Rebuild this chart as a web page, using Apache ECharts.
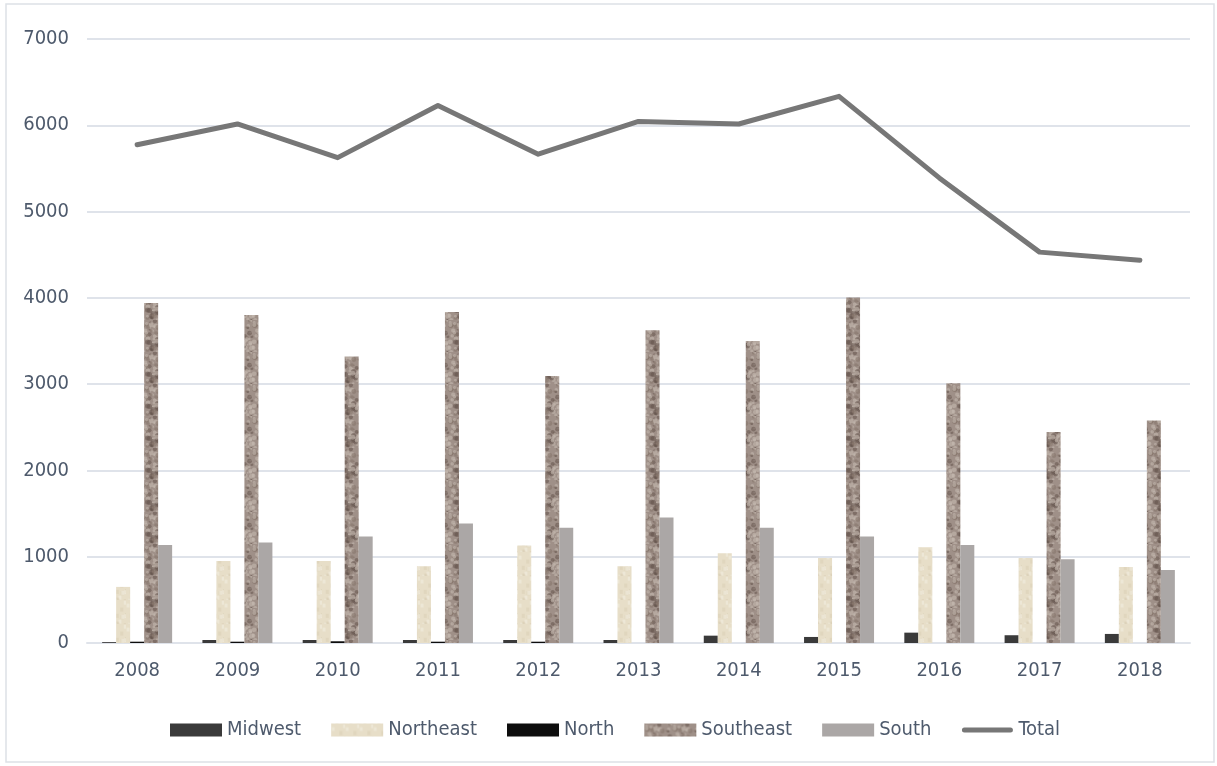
<!DOCTYPE html>
<html lang="en" style="height: 100%">
<head>
  <meta charset="utf-8">
</head>
<body style="height: 100%; margin: 0; background: #fff">
  <div id="container" style="width: 1217px; height: 766px"></div>

  <script type="text/javascript" src="https://fastly.jsdelivr.net/npm/echarts@6.0.0/dist/echarts.min.js"></script>

  <script type="text/javascript">
    // ---- data ----
    var years = ['2008', '2009', '2010', '2011', '2012', '2013', '2014', '2015', '2016', '2017', '2018'];
    var midwest   = [10, 35, 35, 35, 35, 35, 85, 70, 120, 90, 105];
    var northeast = [650, 950, 950, 890, 1130, 890, 1040, 985, 1110, 985, 880];
    var north     = [15, 15, 20, 15, 15, 0, 0, 0, 0, 0, 0];
    var southeast = [3940, 3800, 3320, 3835, 3095, 3625, 3500, 4005, 3010, 2445, 2580];
    var south     = [1135, 1165, 1235, 1385, 1335, 1455, 1335, 1235, 1135, 970, 845];
    var total     = [5775, 6015, 5625, 6230, 5665, 6045, 6015, 6335, 5390, 4530, 4435];
    var yTicks    = [0, 1000, 2000, 3000, 4000, 5000, 6000, 7000];

    var textColor = '#4e5a6c';
    var font = "'Liberation Sans Narrow', 'DejaVu Sans Condensed', sans-serif";

    // small deterministic hash, used only for texture speckle
    function hash(i) {
      var x = Math.sin(i * 12.9898 + 78.233) * 43758.5453;
      return x - Math.floor(x);
    }

    // brown speckled texture (Southeast)
    function speckle() {
      var c = document.createElement('canvas');
      c.width = 28; c.height = 32;
      var g = c.getContext('2d');
      g.fillStyle = '#9f9088';
      g.fillRect(0, 0, 28, 32);
      for (var i = 0; i < 80; i++) {
        var x = hash(i) * 28, y = hash(i + 500) * 32, r = 0.9 + hash(i + 900) * 1.8;
        var t = hash(i + 1300);
        g.fillStyle = t < 0.35 ? 'rgba(100,84,76,0.55)' : (t < 0.75 ? 'rgba(198,187,179,0.55)' : 'rgba(135,118,108,0.6)');
        g.beginPath();
        g.arc(x, y, r, 0, Math.PI * 2);
        g.fill();
      }
      return c;
    }

    // beige soft texture (Northeast)
    function linen() {
      var c = document.createElement('canvas');
      c.width = 14; c.height = 24;
      var g = c.getContext('2d');
      g.fillStyle = '#e7dec8';
      g.fillRect(0, 0, 14, 24);
      for (var j = 0; j < 14; j++) {
        g.fillStyle = hash(j + 70) < 0.5 ? 'rgba(218,207,182,0.55)' : 'rgba(242,237,224,0.6)';
        g.fillRect(hash(j + 90) * 14, hash(j + 110) * 24, 3, 4);
      }
      return c;
    }

    var dom = document.getElementById('container');
    var myChart = echarts.init(dom, null, { renderer: 'canvas' });

    function bar(name, data, color) {
      return {
        name: name,
        type: 'bar',
        data: data,
        barWidth: 14,
        barGap: '0%',
        itemStyle: { color: color }
      };
    }

    // thick rounded line icon for the Total legend entry (corner points keep the box size)
    var lineIcon = 'path://M0,0L0,0M52,13L52,13M3,4L49,4A2.5,2.5,0,0,1,49,9L3,9A2.5,2.5,0,0,1,3,4Z';

    var option = {
      animation: false,
      backgroundColor: '#fff',
      textStyle: { fontFamily: font },
      graphic: [{
        type: 'rect',
        shape: { x: 6, y: 4, width: 1208, height: 758 },
        style: { fill: 'none', stroke: '#dde1e6', lineWidth: 1.5 },
        silent: true
      }],
      grid: { left: 87, right: 27, top: 39, bottom: 123 },
      legend: {
        left: 165,
        top: 715,
        icon: 'rect',
        itemWidth: 52,
        itemHeight: 13,
        itemGap: 30,
        textStyle: { color: textColor, fontSize: 20, fontFamily: font },
        data: ['Midwest', 'Northeast', 'North', 'Southeast', 'South', { name: 'Total', icon: lineIcon }]
      },
      xAxis: {
        type: 'category',
        data: years,
        axisLine: { lineStyle: { color: '#dfe3ea', width: 2 } },
        axisTick: { show: false },
        axisLabel: { color: textColor, fontSize: 20, margin: 18 }
      },
      yAxis: {
        type: 'value',
        min: yTicks[0],
        max: yTicks[yTicks.length - 1],
        interval: 1000,
        axisLine: { show: false },
        axisTick: { show: false },
        splitLine: { lineStyle: { color: '#dfe3ea', width: 2 } },
        axisLabel: { color: textColor, fontSize: 20, margin: 18, formatter: function (v) { return String(v); } }
      },
      series: [
        bar('Midwest', midwest, '#3a3a3a'),
        bar('Northeast', northeast, { image: linen(), repeat: 'repeat' }),
        bar('North', north, '#0d0d0d'),
        bar('Southeast', southeast, { image: speckle(), repeat: 'repeat' }),
        bar('South', south, '#aba7a6'),
        {
          name: 'Total',
          type: 'line',
          data: total,
          symbol: 'none',
          z: 5,
          itemStyle: { color: '#777777' },
          lineStyle: { color: '#777777', width: 5, cap: 'round', join: 'round' }
        }
      ]
    };

    myChart.setOption(option);
    window.addEventListener('resize', myChart.resize);
  </script>
</body>
</html>
